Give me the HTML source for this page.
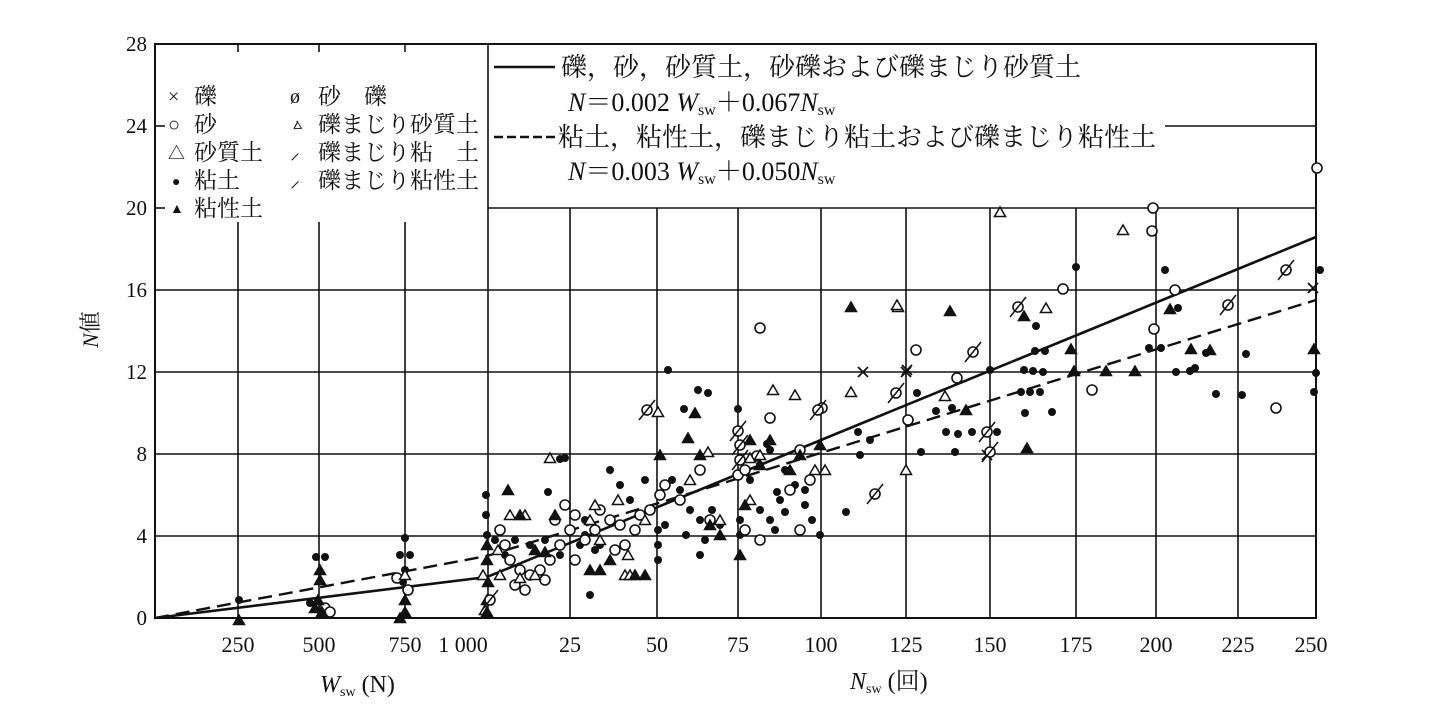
<!DOCTYPE html>
<html><head><meta charset="utf-8">
<style>
html,body{margin:0;padding:0;background:#fff;}
svg{display:block;}
text{font-family:"Liberation Serif","Noto Serif CJK SC",serif;fill:#111;}
</style></head>
<body>
<svg id="s" width="1438" height="707" viewBox="0 0 1438 707" xmlns="http://www.w3.org/2000/svg">
<g stroke="#111" stroke-width="1.6" fill="none">
<rect x="155" y="44" width="1161" height="574" stroke-width="2"/>
<line x1="155" y1="536" x2="1316" y2="536"/>
<line x1="155" y1="454" x2="1316" y2="454"/>
<line x1="155" y1="372" x2="1316" y2="372"/>
<line x1="155" y1="290" x2="1316" y2="290"/>
<line x1="488" y1="208" x2="1316" y2="208"/>
<line x1="1165" y1="126" x2="1316" y2="126"/>
<line x1="155" y1="208" x2="165" y2="208"/>
<line x1="155" y1="126" x2="165" y2="126"/>
<line x1="238" y1="222" x2="238" y2="618"/>
<line x1="319" y1="222" x2="319" y2="618"/>
<line x1="405" y1="222" x2="405" y2="618"/>
<line x1="238" y1="44" x2="238" y2="52"/>
<line x1="319" y1="44" x2="319" y2="52"/>
<line x1="405" y1="44" x2="405" y2="52"/>
<line x1="488" y1="44" x2="488" y2="618"/>
<line x1="570" y1="208" x2="570" y2="618"/>
<line x1="657" y1="208" x2="657" y2="618"/>
<line x1="738" y1="208" x2="738" y2="618"/>
<line x1="821" y1="208" x2="821" y2="618"/>
<line x1="906" y1="208" x2="906" y2="618"/>
<line x1="990" y1="208" x2="990" y2="618"/>
<line x1="1076" y1="208" x2="1076" y2="618"/>
<line x1="1156" y1="208" x2="1156" y2="618"/>
<line x1="1238" y1="208" x2="1238" y2="618"/>
<polyline points="155,618 487,577 1316,237" stroke-width="2.6"/>
<polyline points="155,618 487,556 1316,300" stroke-width="2.4" stroke-dasharray="14,7"/>
<line x1="494" y1="67" x2="555" y2="67" stroke-width="2.6"/>
<line x1="494" y1="137" x2="555" y2="137" stroke-width="2.4" stroke-dasharray="9,4"/>
</g>
<g id="pts"></g>
<g font-size="21">
<text x="147" y="51" text-anchor="end">28</text>
<text x="147" y="133" text-anchor="end">24</text>
<text x="147" y="215" text-anchor="end">20</text>
<text x="147" y="297" text-anchor="end">16</text>
<text x="147" y="379" text-anchor="end">12</text>
<text x="147" y="461" text-anchor="end">8</text>
<text x="147" y="543" text-anchor="end">4</text>
<text x="147" y="625" text-anchor="end">0</text>
<g font-size="22">
<text x="238" y="652" text-anchor="middle">250</text>
<text x="319" y="652" text-anchor="middle">500</text>
<text x="405" y="652" text-anchor="middle">750</text>
<text x="463" y="652" text-anchor="middle">1 000</text>
<text x="570" y="652" text-anchor="middle">25</text>
<text x="657" y="652" text-anchor="middle">50</text>
<text x="738" y="652" text-anchor="middle">75</text>
<text x="821" y="652" text-anchor="middle">100</text>
<text x="906" y="652" text-anchor="middle">125</text>
<text x="990" y="652" text-anchor="middle">150</text>
<text x="1076" y="652" text-anchor="middle">175</text>
<text x="1156" y="652" text-anchor="middle">200</text>
<text x="1238" y="652" text-anchor="middle">225</text>
<text x="1311" y="652" text-anchor="middle">250</text>
</g>
<text x="320" y="692" font-size="24"><tspan font-style="italic">W</tspan><tspan font-size="14" dy="4">sw</tspan><tspan dy="-4"> (N)</tspan></text>
<text x="850" y="689" font-size="24"><tspan font-style="italic">N</tspan><tspan font-size="14" dy="4">sw</tspan><tspan dy="-4"> (回)</tspan></text>
<text x="98" y="348" font-size="22" transform="rotate(-90 98 348)"><tspan font-style="italic">N</tspan>値</text>
<g font-size="23">
<text x="168" y="103" font-size="20">×</text><text x="194" y="104">礫</text>
<text x="168" y="131" font-size="20">○</text><text x="194" y="132">砂</text>
<text x="168" y="159" font-size="17">△</text><text x="194" y="160">砂質土</text>
<text x="172" y="186" font-size="14">●</text><text x="194" y="188">粘土</text>
<text x="170" y="213" font-size="14">▲</text><text x="194" y="216">粘性土</text>
<text x="290" y="103" font-size="20">ø</text><text x="318" y="104">砂　礫</text>
<text x="290" y="131" font-size="16">ㅿ</text><text x="318" y="132">礫まじり砂質土</text>
<text x="290" y="159" font-size="20">⸝</text><text x="318" y="160">礫まじり粘　土</text>
<text x="290" y="187" font-size="20">⸝</text><text x="318" y="188">礫まじり粘性土</text>
</g>
<text x="561" y="76" font-size="26">礫，砂，砂質土，砂礫および礫まじり砂質土</text>
<text x="568" y="111" font-size="26"><tspan font-style="italic">N</tspan>＝0.002 <tspan font-style="italic">W</tspan><tspan font-size="16" dy="4">sw</tspan><tspan dy="-4">＋0.067</tspan><tspan font-style="italic">N</tspan><tspan font-size="16" dy="4">sw</tspan></text>
<text x="558" y="146" font-size="26">粘土，粘性土，礫まじり粘土および礫まじり粘性土</text>
<text x="568" y="180" font-size="26"><tspan font-style="italic">N</tspan>＝0.003 <tspan font-style="italic">W</tspan><tspan font-size="16" dy="4">sw</tspan><tspan dy="-4">＋0.050</tspan><tspan font-style="italic">N</tspan><tspan font-size="16" dy="4">sw</tspan></text>
</g>
</svg>
<script>
var P={
c:[[239,600],[316,557],[325,557],[310,603],[405,538],[400,555],[410,555],[405,570],[403,582],[486,495],[486,515],[487,535],
[495,540],[505,555],[515,540],[530,545],[545,540],[560,555],[548,492],[560,459],[565,458],
[585,535],[580,545],[595,550],[600,545],[610,470],[620,485],[630,500],[590,595],[585,520],[645,480],
[668,370],[698,390],[708,393],[684,409],[658,530],[658,545],[658,560],[665,525],[680,490],[690,510],[700,520],[720,525],[712,510],[686,535],[700,555],[672,480],[705,540],
[738,409],[740,520],[740,535],[760,465],[770,450],[760,510],[770,520],[775,530],[780,500],[795,485],[805,490],[812,520],[820,535],[805,505],[785,470],[767,444],[777,492],[785,512],[750,480],[846,512],[860,455],[870,440],[858,432],
[1076,267],[1165,270],[1320,270],[1036,326],[1178,308],[1035,351],[1045,351],[1149,348],[1161,348],[1246,354],[990,370],[1024,370],[1033,371],[1043,372],[1190,371],[1195,368],[1316,373],[917,393],[1021,392],[1030,392],[1040,392],[1216,394],[1314,392],[936,411],[952,408],[1025,413],[1052,412],[946,432],[958,434],[972,432],[997,432],[921,452],[955,452],[1206,353],[1176,372],[1242,395]],
o:[[325,608],[330,612],[397,578],[408,590],
[500,530],[505,545],[510,560],[520,570],[530,575],[540,570],[550,560],[560,545],[570,530],[575,515],[565,505],[555,520],[545,580],[525,590],[515,585],
[575,560],[585,540],[595,530],[600,510],[610,520],[615,550],[625,545],[635,530],[640,515],[650,510],[620,525],
[665,485],[680,500],[700,470],[660,495],[710,520],[738,475],[745,470],[757,456],[770,418],[790,490],[800,450],[800,530],[810,480],[745,530],[760,540],[760,328],[822,408],
[1153,208],[1152,231],[1063,289],[1154,329],[916,350],[957,378],[1092,390],[1276,408],[908,420],[1317,168],[1175,290]],
t:[[405,575],[483,575],[485,610],[498,550],[520,578],[535,575],[500,575],[550,458],[510,515],[525,515],
[595,505],[590,520],[618,500],[628,555],[625,575],[630,575],[600,540],[645,520],
[658,412],[708,452],[690,480],[720,520],[773,390],[760,455],[750,458],[795,395],[815,470],[825,470],[750,500],[851,392],
[1000,212],[1123,230],[898,307],[1046,308],[945,396],[897,305],[906,470]],
T:[[239,620],[320,570],[320,580],[318,600],[315,608],[322,612],[405,600],[405,612],[400,618],[487,545],[487,560],[488,582],[487,600],[487,612],
[508,490],[520,515],[535,550],[545,552],[555,515],[590,570],[600,570],[635,575],[645,575],[610,560],
[695,413],[688,438],[700,455],[710,525],[720,535],[660,455],[740,555],[750,440],[760,465],[770,440],[790,470],[800,455],[820,445],[745,505],[851,307],
[950,311],[1024,316],[1170,309],[1071,349],[1191,349],[1314,349],[1074,371],[1106,371],[1135,371],[966,410],[1027,448],[1210,350]],
x:[[863,372],[906,372],[987,455],[1313,288],[907,370]],
g:[[740,460],[740,445],[818,410],[738,431],[647,410],[1286,270],[1018,307],[973,352],[896,393],[987,432],[990,452],[875,494],[1228,305],[490,600]]
};
var s='';
P.c.forEach(function(p){s+='<circle cx="'+p[0]+'" cy="'+p[1]+'" r="4" fill="#111"/>';});
P.o.forEach(function(p){s+='<circle cx="'+p[0]+'" cy="'+p[1]+'" r="5" fill="#fff" stroke="#111" stroke-width="1.6"/>';});
function tri(x,y,f){return '<polygon points="'+x+','+(y-5)+' '+(x-5.5)+','+(y+4.5)+' '+(x+5.5)+','+(y+4.5)+'" fill="'+(f?'#111':'#fff')+'" stroke="#111" stroke-width="1.5"/>';}
P.t.forEach(function(p){s+=tri(p[0],p[1],0);});
P.T.forEach(function(p){s+=tri(p[0],p[1],1);});
P.x.forEach(function(p){var x=p[0],y=p[1];s+='<path d="M'+(x-5)+' '+(y-5)+'L'+(x+5)+' '+(y+5)+'M'+(x+5)+' '+(y-5)+'L'+(x-5)+' '+(y+5)+'" stroke="#111" stroke-width="1.8"/>';});
P.g.forEach(function(p){var x=p[0],y=p[1];s+='<circle cx="'+x+'" cy="'+y+'" r="5" fill="#fff" stroke="#111" stroke-width="1.6"/><path d="M'+(x-8)+' '+(y+10)+'L'+(x+8)+' '+(y-10)+'" stroke="#111" stroke-width="1.5"/>';});
document.getElementById('pts').innerHTML=s;
</script>
</body></html>
